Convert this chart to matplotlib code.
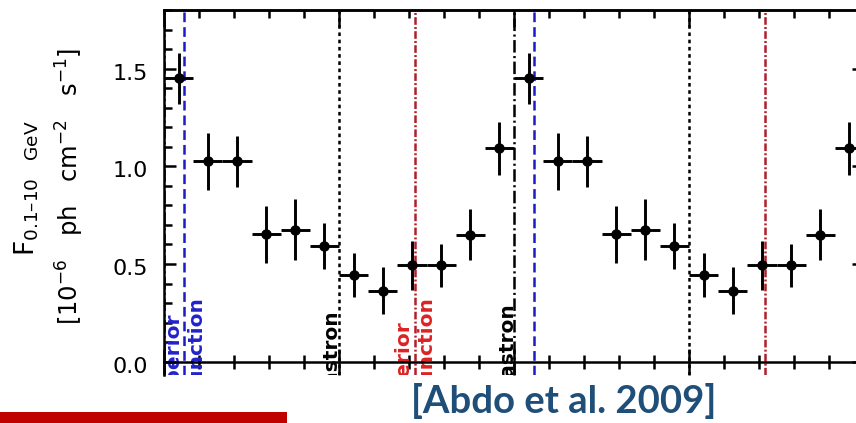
import numpy as np
import matplotlib
matplotlib.use('Agg')
import matplotlib.pyplot as plt
from matplotlib.ticker import MultipleLocator, FormatStrFormatter, NullFormatter
from matplotlib.patches import Rectangle
from matplotlib.transforms import ScaledTranslation

# ---------------- data ----------------
phase = [0.0417, 0.125, 0.2083, 0.2917, 0.375, 0.4583,
         0.5417, 0.625, 0.7083, 0.7917, 0.875, 0.9583]
flux = [1.45, 1.025, 1.025, 0.652, 0.676, 0.591,
        0.443, 0.363, 0.494, 0.494, 0.651, 1.092]
flux_err = [0.13, 0.145, 0.13, 0.145, 0.155, 0.117,
            0.112, 0.12, 0.126, 0.11, 0.13, 0.136]
bin_half_width = 0.0417

event_names = ['periastron', 'superior conjunction', 'apastron', 'inferior conjunction']
event_phase = [0.0, 0.058, 0.5, 0.716]

yticks = [0.0, 0.5, 1.0, 1.5]
citation = '[Abdo et al. 2009]'

# ---------------- figure ----------------
plt.rcParams['lines.scale_dashes'] = False
W, H = 856, 423
fig = plt.figure(figsize=(W / 100, H / 100), dpi=100)


def fx(px):
    return px / W


def fy(py):
    return 1 - py / H


ax = fig.add_axes([fx(164), fy(375), 700 / W, 365 / H])
ax.set_xlim(0, 2)
ax.set_ylim(-0.068, 1.8)

for s in ax.spines.values():
    s.set_linewidth(1.8)
ax.spines['bottom'].set_position(('data', 0))

# x ticks (bottom: crossing the axis, top: inward)
ax.xaxis.set_major_locator(MultipleLocator(0.5))
ax.xaxis.set_minor_locator(MultipleLocator(0.1))
ax.tick_params(axis='x', which='both', bottom=True, top=False,
               labelbottom=False, direction='inout', width=1.8)
ax.tick_params(axis='x', which='major', length=18.5)
ax.tick_params(axis='x', which='minor', length=9.4)

sec = ax.secondary_xaxis('top')
sec.xaxis.set_major_locator(MultipleLocator(0.5))
sec.xaxis.set_minor_locator(MultipleLocator(0.1))
sec.xaxis.set_major_formatter(NullFormatter())
sec.spines['top'].set_linewidth(1.8)
sec.tick_params(which='both', direction='in', width=1.8, labeltop=False)
sec.tick_params(which='major', length=12)
sec.tick_params(which='minor', length=5.8)

# y ticks
ax.set_yticks(yticks)
ax.yaxis.set_major_formatter(FormatStrFormatter('%.1f'))
ax.yaxis.set_minor_locator(MultipleLocator(0.1))
ax.tick_params(axis='y', which='both', left=True, right=True,
               direction='in', width=1.8, labelsize=16, pad=11.5)
ax.tick_params(axis='y', which='major', length=8.5)
ax.tick_params(axis='y', which='minor', length=5.8)
shift = ScaledTranslation(0, -3 / 100, fig.dpi_scale_trans)
for lab in ax.get_yticklabels():
    lab.set_transform(lab.get_transform() + shift)

# event lines
blue = '#1c1cc4'
red = '#b0202a'
styles = {
    'periastron': dict(color='k', ls=(0, (9, 2.5, 1.5, 2.5))),
    'superior conjunction': dict(color=blue, ls=(0, (7, 3.6))),
    'apastron': dict(color='k', ls=(0, (2.6, 2.6))),
    'inferior conjunction': dict(color=red, ls=(0, (5.5, 1.6, 1.4, 1.6))),
}
for name, ph in zip(event_names, event_phase):
    for k in range(3):
        if ph + k <= 2.0:
            ax.axvline(ph + k, lw=1.8, zorder=1, **styles[name])

# event labels (rotated, clipped at the axes bottom)
tcol_blue = '#2222cc'
tcol_red = '#dd2222'
labels = [
    ('periastron', 'k', event_phase[0] - 0.022, 0.305),
    ('periastron', 'k', event_phase[0] + 1 - 0.022, 0.305),
    ('superior', tcol_blue, event_phase[1] - 0.031, 0.249),
    ('conjunction', tcol_blue, event_phase[1] + 0.036, 0.331),
    ('apastron', 'k', event_phase[2] - 0.022, 0.264),
    ('inferior', tcol_red, event_phase[3] - 0.033, 0.213),
    ('conjunction', tcol_red, event_phase[3] + 0.035, 0.331),
]
for txt, c, x, y in labels:
    ax.text(x, y, txt, rotation=90, ha='center', va='top', color=c,
            fontsize=14.5, fontweight='bold', clip_on=True, zorder=2)

# data, two orbital cycles
ph2 = np.concatenate([np.array(phase), np.array(phase) + 1])
fl2 = np.concatenate([flux, flux])
er2 = np.concatenate([flux_err, flux_err])
ax.errorbar(ph2, fl2, xerr=bin_half_width, yerr=er2, fmt='o', color='k',
            ms=6.5, elinewidth=2.1, capsize=0, zorder=3)

# y label (two lines)
fig.text(fx(27), fy(188), 'F$_{\\rm 0.1\u201310\\ \\ \\ GeV}$', rotation=90,
         ha='center', va='center', fontsize=19)
fig.text(fx(70), fy(186), '[10$^{-6}$   ph   cm$^{-2}$   s$^{-1}$]', rotation=90,
         ha='center', va='center', fontsize=17.5)

# slide decorations
fig.add_artist(Rectangle((0, 0), 287 / W, 11 / H, transform=fig.transFigure,
                         color='#C00000', lw=0))
fig.text(fx(564), fy(413), citation, ha='center', va='baseline',
         fontsize=27.5, fontweight='bold', family='Lato', color='#1F4E79')

fig.savefig('out.png', dpi=100)
